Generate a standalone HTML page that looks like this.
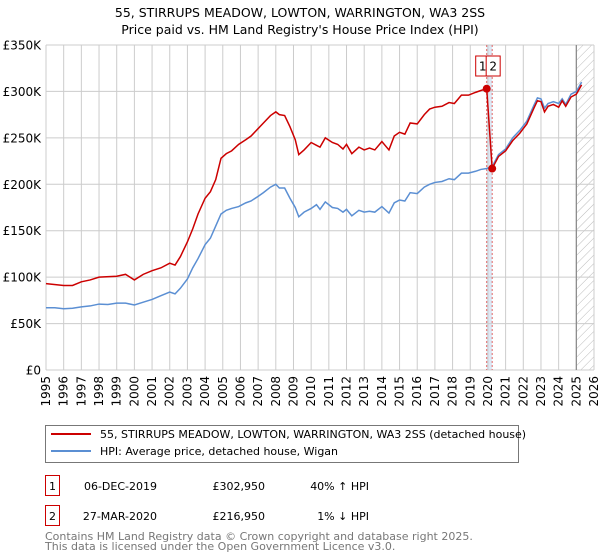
<!DOCTYPE html>
<html><head><meta charset="utf-8"><style>
body{margin:0;background:#fff;font-family:"DejaVu Sans","Liberation Sans",sans-serif;}
#wrap{position:relative;width:600px;height:560px;overflow:hidden;}
.abs{position:absolute;white-space:nowrap;}
</style></head><body>
<div id="wrap">
<svg id="chart" width="600" height="560" style="position:absolute;left:0;top:0"></svg>
</div>
<script>
const hpiYears=[1995,1995.5,1996,1996.5,1997,1997.5,1998,1998.5,1999,1999.5,2000,2000.5,2001,2001.5,2002,2002.3,2002.6,2003,2003.3,2003.6,2004,2004.3,2004.6,2004.9,2005.2,2005.5,2005.9,2006.3,2006.6,2007,2007.3,2007.7,2008,2008.2,2008.5,2008.8,2009.1,2009.3,2009.6,2010,2010.3,2010.5,2010.8,2011.2,2011.5,2011.8,2012,2012.3,2012.7,2013,2013.3,2013.6,2014,2014.4,2014.7,2015,2015.3,2015.6,2016,2016.4,2016.7,2017,2017.4,2017.8,2018.1,2018.5,2018.9,2019.3,2019.6,2019.93,2020.24,2020.6,2021,2021.4,2021.8,2022.2,2022.6,2022.8,2023,2023.2,2023.4,2023.7,2024,2024.2,2024.4,2024.7,2025,2025.3];
const hpiValues=[67,67,66,66.5,68,69,71,70.5,72,72,70,73,76,80,84,82,88,98,110,120,135,142,155,168,172,174,176,180,182,187,191,197,200,196,196,185,175,165,170,174,178,173,181,175,174,170,173,166,172,170,171,170,176,169,180,183,182,191,190,197,200,202,203,206,205,212,212,214,216,217,219,232,238,250,258,268,285,293,292,282,287,289,287,292,286,297,300,310];
const priceYears=[1995,1996,1996.5,1997,1997.5,1998,1999,1999.5,2000,2000.5,2001,2001.5,2002,2002.3,2002.6,2003,2003.3,2003.6,2004,2004.3,2004.6,2004.9,2005.2,2005.5,2005.9,2006.3,2006.6,2007,2007.3,2007.7,2008,2008.2,2008.5,2008.8,2009.1,2009.3,2009.6,2010,2010.3,2010.5,2010.8,2011.2,2011.5,2011.8,2012,2012.3,2012.7,2013,2013.3,2013.6,2014,2014.4,2014.7,2015,2015.3,2015.6,2016,2016.4,2016.7,2017,2017.4,2017.8,2018.1,2018.5,2018.9,2019.3,2019.6,2019.93,2020.24,2020.6,2021,2021.4,2021.8,2022.2,2022.6,2022.8,2023,2023.2,2023.4,2023.7,2024,2024.2,2024.4,2024.7,2025,2025.3];
const priceValues=[93,91,91,95,97,100,101,103,97,103,107,110,115,113,122,138,152,168,185,192,205,228,233,236,243,248,252,260,266,274,278,275,274,262,248,232,237,245,242,240,250,245,243,238,243,233,240,237,239,237,246,237,252,256,254,266,265,275,281,283,284,288,287,296,296,299,301,302.95,216.95,230,236,247,255,265,282,290,289,278,284,286,283,290,284,294,297,307];
const saleYears=[2019.93,2020.24];
const saleValues=[302.95,216.95];
const saleLabels=["1","2"];
const yTicks=[0,50,100,150,200,250,300,350];
const yTickLabels=["£0","£50K","£100K","£150K","£200K","£250K","£300K","£350K"];
const xTicks=[1995,1996,1997,1998,1999,2000,2001,2002,2003,2004,2005,2006,2007,2008,2009,2010,2011,2012,2013,2014,2015,2016,2017,2018,2019,2020,2021,2022,2023,2024,2025,2026];

const L=46,R=594,T=45,B=370;
const X=y=>L+(y-1995)/(2026-1995)*(R-L);
const Y=v=>B-v/350*(B-T);
const svg=document.getElementById('chart');
const NS='http://www.w3.org/2000/svg';
function mk(tag,attrs,parent){const e=document.createElementNS(NS,tag);for(const k in attrs)e.setAttribute(k,attrs[k]);(parent||svg).appendChild(e);return e;}

let t=mk('text',{x:300,y:17,'text-anchor':'middle','font-size':'12.5',fill:'#000'});t.textContent='55, STIRRUPS MEADOW, LOWTON, WARRINGTON, WA3 2SS';


t=mk('text',{x:300,y:34,'text-anchor':'middle','font-size':'12.5',fill:'#000'});t.textContent="Price paid vs. HM Land Registry's House Price Index (HPI)";



// sale shading band
let band=mk('rect',{x:X(saleYears[0]),y:T,width:X(saleYears[1])-X(saleYears[0]),height:B-T,fill:'#dde8f5'});


// hatched future region
const defs=mk('defs',{});
const pat=mk('pattern',{id:'hatch',patternUnits:'userSpaceOnUse',width:6,height:6,patternTransform:'rotate(45)'},defs);
mk('line',{x1:0,y1:0,x2:0,y2:6,stroke:'#bbb','stroke-width':1},pat);
let hat=mk('rect',{x:X(2025.0),y:T,width:R-X(2025.0),height:B-T,fill:'url(#hatch)'});



// grid
xTicks.forEach(y=>{const g=mk('line',{x1:X(y),x2:X(y),y1:T,y2:B,stroke:'#cccccc','stroke-width':1});


const tx=mk('text',{x:0,y:0,'font-size':'12',fill:'#000','text-anchor':'end',transform:`translate(${X(y)+4},${B+6}) rotate(-90)`});tx.textContent=y;

});
yTicks.forEach((v,i)=>{const g=mk('line',{x1:L,x2:R,y1:Y(v),y2:Y(v),stroke:'#cccccc','stroke-width':1});


const tx=mk('text',{x:L-5,y:Y(v)+4.5,'font-size':'12',fill:'#000','text-anchor':'end'});tx.textContent=yTickLabels[i];

});
let cut=mk('line',{x1:X(2025.0),x2:X(2025.0),y1:T,y2:B,stroke:'#888','stroke-width':1.2});



saleYears.forEach(y=>{const d=mk('line',{x1:X(y),x2:X(y),y1:T,y2:B,stroke:'#e06666','stroke-width':1,'stroke-dasharray':'2,2'});

});

let hp=mk('polyline',{points:hpiYears.map((y,i)=>X(y)+','+Y(hpiValues[i])).join(' '),fill:'none',stroke:'#5b8fd3','stroke-width':1.5});


let pp=mk('polyline',{points:priceYears.map((y,i)=>X(y)+','+Y(priceValues[i])).join(' '),fill:'none',stroke:'#cc0000','stroke-width':1.5});



saleYears.forEach((y,i)=>{const c=mk('circle',{cx:X(y),cy:Y(saleValues[i]),r:4,fill:'#cc0000'});


const bx=mk('rect',{x:X(y)-11+i*5,y:56,width:14,height:20,fill:'#fff',stroke:'#cc0000','stroke-width':1});


const tx=mk('text',{x:X(y)-4+i*5,y:70.5,'font-size':'12','text-anchor':'middle',fill:'#000'});tx.textContent=saleLabels[i];

});

// legend
let lg=mk('rect',{x:45.5,y:425.5,width:473,height:37,fill:'#fff',stroke:'#777','stroke-width':1});


[['#cc0000','55, STIRRUPS MEADOW, LOWTON, WARRINGTON, WA3 2SS (detached house)',434,'legend-entry-price'],['#5b8fd3','HPI: Average price, detached house, Wigan',451,'legend-entry-hpi']].forEach(e=>{
const l=mk('line',{x1:51,x2:91,y1:e[2],y2:e[2],stroke:e[0],'stroke-width':2});


const tx=mk('text',{x:100,y:e[2]+4,'font-size':'11',fill:'#000'});tx.textContent=e[1];

});

// table
const rows=[['1','06-DEC-2019','£302,950','40% ↑ HPI',486],['2','27-MAR-2020','£216,950','1% ↓ HPI',516]];
rows.forEach(r=>{const bx=mk('rect',{x:45.5,y:r[4]-10.5,width:14,height:20,fill:'none',stroke:'#cc0000','stroke-width':1});


const cols=[[52.5,r[0],'middle'],[157,r[1],'end'],[265,r[2],'end'],[369,r[3],'end']];
cols.forEach((c,j)=>{const tx=mk('text',{x:c[0],y:r[4]+4,'font-size':'11','text-anchor':c[2],fill:'#000'});tx.textContent=c[1];

});});
[['Contains HM Land Registry data © Crown copyright and database right 2025.',540],['This data is licensed under the Open Government Licence v3.0.',550]].forEach(f=>{
const tx=mk('text',{x:45,y:f[1],'font-size':'11',fill:'#777'});tx.textContent=f[0];

});
</script>
</body></html>
